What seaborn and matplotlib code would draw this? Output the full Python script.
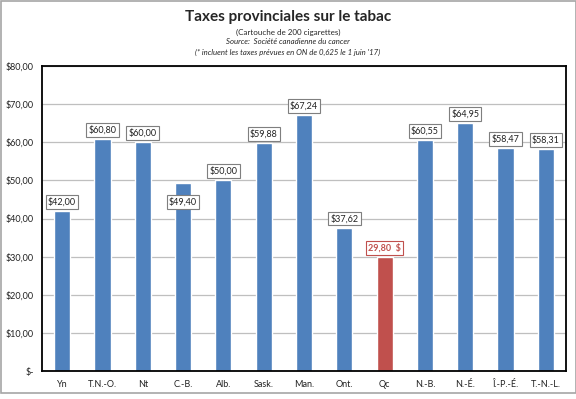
import matplotlib
matplotlib.use("Agg")
import matplotlib.pyplot as plt
import seaborn as sns
import pandas as pd
from matplotlib.patches import Rectangle
from matplotlib.ticker import FuncFormatter

provinces = ["Yn", "T.N.-O.", "Nt", "C.-B.", "Alb.", "Sask.", "Man.", "Ont.",
             "Qc", "N.-B.", "N.-É.", "Î.-P.-É.", "T.-N.-L."]
taxes = [42.00, 60.80, 60.00, 49.40, 50.00, 59.88, 67.24, 37.62,
         29.80, 60.55, 64.95, 58.47, 58.31]
highlight = "Qc"
y_ticks = [0, 10, 20, 30, 40, 50, 60, 70, 80]

title = "Taxes provinciales sur le tabac"
sub1 = "(Cartouche de 200 cigarettes)"
sub2 = "Source:  Société canadienne du cancer"
sub3 = "(* incluent les taxes prévues en ON de 0,625 le 1 juin '17)"

BLUE = "#4f81bd"
RED = "#c0504d"

df = pd.DataFrame({"prov": provinces, "tax": taxes})
palette = {p: (RED if p == highlight else BLUE) for p in provinces}

sns.set_theme(style="white")
plt.rcParams["font.family"] = ["Lato", "DejaVu Sans"]

fig = plt.figure(figsize=(5.76, 3.99), dpi=100)
ax = fig.add_axes([42/576, 1-371/399, (566-42)/576, (371-66)/399])

sns.barplot(data=df, x="prov", y="tax", hue="prov", palette=palette,
            width=0.4, legend=False, ax=ax, saturation=1)

ax.set_ylim(0, 80)
ax.set_xlim(-0.5, len(provinces)-0.5)
ax.set_yticks(y_ticks)

def fmt(v, pos):
    if v == 0:
        return "$-"
    return "${:.2f}".format(v).replace(".", ",")
ax.yaxis.set_major_formatter(FuncFormatter(fmt))
ax.yaxis.grid(True, color="#bfbfbf", linewidth=0.9)
ax.set_axisbelow(True)
ax.set_xlabel("")
ax.set_ylabel("")
ax.tick_params(axis="both", length=0, labelsize=6.5, colors="#222222")
ax.tick_params(axis="y", pad=6)
ax.tick_params(axis="x", pad=6.5)
for s in ax.spines.values():
    s.set_color("black")
    s.set_linewidth(1.3)

for i, (p, v) in enumerate(zip(provinces, taxes)):
    if p == highlight:
        txt = "{:.2f}  $".format(v).replace(".", ",")
        col = "#c0504d"
        ec = "#c0504d"
    else:
        txt = "${:.2f}".format(v).replace(".", ",")
        col = "#222222"
        ec = "#7f7f7f"
    off = -13.7 if p == "C.-B." else 6.5
    ax.annotate(txt, (i, v), xytext=(0, off), textcoords="offset points",
                ha="center", va="center", fontsize=6.5, color=col,
                fontweight="bold" if p == highlight else "normal",
                bbox=dict(boxstyle="square,pad=0.25", fc="white", ec=ec, lw=0.8))

fig.text(0.5, 1-17/399, title, ha="center", va="center", fontsize=11, fontweight="bold")
fig.text(0.5, 1-32/399, sub1, ha="center", va="center", fontsize=5.8)
fig.text(0.5, 1-42/399, sub2, ha="center", va="center", fontsize=5.6, style="italic")
fig.text(0.5, 1-52/399, sub3, ha="center", va="center", fontsize=5.6, style="italic")

fig.patches.append(Rectangle((0.5/576, 1-393/399), 575/576, 392.5/399,
                             transform=fig.transFigure, fill=False,
                             ec="#a6a6a6", lw=1.2))

fig.savefig("out.png", dpi=100)
